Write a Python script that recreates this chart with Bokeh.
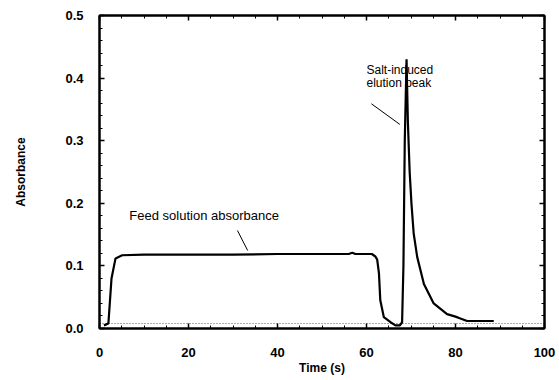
from bokeh.plotting import figure
from bokeh.models import Range1d, LinearAxis, Label, FixedTicker, CustomJSTickFormatter
from bokeh.embed import file_html
from bokeh.resources import INLINE

# Data
time_s = [1, 2, 2.7, 3.6, 5.1, 10, 20, 30, 40, 50, 56, 56.8, 57.5, 60, 61.2, 62.0,
          62.4, 62.8, 63.1, 63.9, 65.4, 66.5, 67.5, 68.0, 68.3, 68.6, 69.0, 69.3,
          69.7, 70.1, 70.6, 71.4, 72.9, 75.1, 78.1, 80, 81.1, 82.6, 85, 88.6]
absorbance = [0.005, 0.008, 0.08, 0.112, 0.117, 0.118, 0.118, 0.118, 0.119, 0.119,
              0.119, 0.121, 0.119, 0.119, 0.119, 0.115, 0.11, 0.088, 0.045, 0.018,
              0.01, 0.005, 0.005, 0.01, 0.1, 0.3, 0.43, 0.33, 0.25, 0.2, 0.152,
              0.114, 0.071, 0.04, 0.023, 0.019, 0.016, 0.012, 0.012, 0.012]
baseline_x = [0, 100]
baseline_y = [0.008, 0.008]
x_ticks = [0, 20, 40, 60, 80, 100]
y_ticks = [0.0, 0.1, 0.2, 0.3, 0.4, 0.5]

FONT = "Liberation Sans"

p = figure(width=559, height=380, output_backend="svg", toolbar_location=None,
           x_range=Range1d(0, 100), y_range=Range1d(0, 0.5),
           min_border_left=99, min_border_right=15, min_border_top=15,
           min_border_bottom=52)
p.grid.visible = False
p.outline_line_color = "black"
p.outline_line_width = 2
p.background_fill_color = "white"
p.border_fill_color = "white"

def style_axis(ax):
    ax.axis_line_width = 2
    ax.axis_line_color = "black"
    ax.major_tick_in = 5
    ax.major_tick_out = 0
    ax.minor_tick_in = 3
    ax.minor_tick_out = 0
    ax.major_tick_line_width = 1.5
    ax.minor_tick_line_width = 1
    ax.major_label_text_font = FONT
    ax.major_label_text_font_size = "13px"
    ax.major_label_text_font_style = "bold"
    ax.major_label_text_color = "black"
    ax.axis_label_text_font = FONT
    ax.axis_label_text_font_size = "12px"
    ax.axis_label_text_font_style = "bold"
    ax.axis_label_text_color = "black"

x_minor = [i for i in range(0, 101, 5)]
y_minor = [i / 50 for i in range(0, 26)]

xa = p.xaxis[0]
xa.ticker = FixedTicker(ticks=x_ticks, minor_ticks=x_minor)
xa.axis_label = "Time (s)"
xa.major_label_standoff = 19
xa.axis_label_standoff = 1
style_axis(xa)

ya = p.yaxis[0]
ya.ticker = FixedTicker(ticks=y_ticks, minor_ticks=y_minor)
ya.axis_label = "Absorbance"
ya.major_label_standoff = 16
ya.axis_label_standoff = 34
ya.formatter = CustomJSTickFormatter(code="return tick.toFixed(1);")
style_axis(ya)

ra = LinearAxis(ticker=FixedTicker(ticks=y_ticks, minor_ticks=y_minor),
                major_label_text_alpha=0, major_label_standoff=0)
style_axis(ra)
ra.major_label_text_font_size = "1px"
ra.major_label_text_alpha = 0
p.add_layout(ra, "right")
ta = LinearAxis(ticker=FixedTicker(ticks=x_ticks, minor_ticks=x_minor),
                major_label_text_alpha=0, major_label_standoff=0)
style_axis(ta)
ta.major_label_text_font_size = "1px"
ta.major_label_text_alpha = 0
p.add_layout(ta, "above")

p.line(baseline_x, baseline_y, line_color="#555555", line_width=1, line_dash="1 2")
p.line(time_s, absorbance, line_color="black", line_width=2.2)

# annotations
p.add_layout(Label(x=60.0, y=0.424, text="Salt-induced\nelution peak",
                   text_font=FONT, text_font_size="12px", text_baseline="top",
                   text_color="black", text_line_height=0.95))
p.line([61.1, 67.5], [0.359, 0.326], line_color="black", line_width=1)
p.add_layout(Label(x=6.7, y=0.1805, text="Feed solution absorbance",
                   text_font=FONT, text_font_size="13px", text_baseline="middle",
                   text_color="black"))
p.line([31.0, 33.3], [0.1565, 0.1246], line_color="black", line_width=1)

open("out.html", "w").write(file_html(p, INLINE))
